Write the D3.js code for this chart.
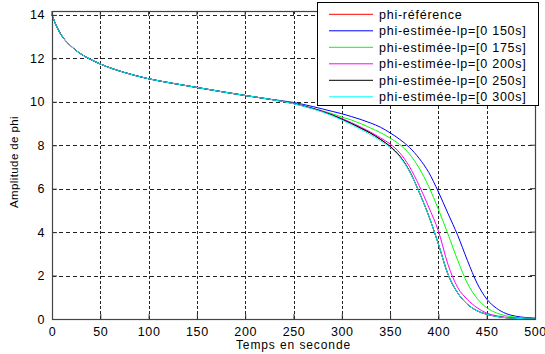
<!DOCTYPE html>
<html><head><meta charset="utf-8">
<script src="https://cdn.jsdelivr.net/npm/d3@7/dist/d3.min.js"></script>
<style>
body{margin:0;background:#fff;}
text{font-family:"Liberation Sans",Arial,sans-serif;fill:#000;}
</style></head>
<body><svg id="c" width="545" height="354"></svg>
<script>
const times = [0,5,10,20,30,40,50,75,100,125,150,175,200,225,
  250,260,270,280,290,300,310,320,330,340,350,360,370,380,390,400,410,420,430,440,450,460,470,480,490,500];
const common = [14,13.45,13.05,12.55,12.2,11.95,11.74,11.35,11.06,10.85,10.66,10.47,10.29,10.12];
const phiRef = common.concat([9.92,9.81,9.69,9.55,9.39,9.2,9.0,8.78,8.55,8.27,7.95,7.5,6.82,5.85,4.75,3.45,2.05,1.2,0.68,0.38,0.22,0.12,0.06,0.03,0.01,0]);
const phi150 = common.concat([9.97,9.88,9.78,9.67,9.56,9.45,9.32,9.18,9.02,8.83,8.57,8.27,7.9,7.4,6.75,5.85,4.85,3.85,2.7,1.65,0.92,0.5,0.25,0.13,0.07,0.04]);
const phi175 = common.concat([9.94,9.83,9.7,9.58,9.45,9.3,9.16,8.99,8.79,8.58,8.33,8.03,7.6,6.95,6.1,5.05,3.9,2.7,1.65,0.95,0.52,0.28,0.15,0.08,0.04,0.02]);
const phi200 = common.concat([9.93,9.82,9.7,9.57,9.41,9.23,9.04,8.83,8.6,8.34,8.06,7.65,7.02,6.15,5.15,4.05,2.5,1.45,0.9,0.52,0.27,0.15,0.08,0.04,0.02,0.01]);
const phi250 = common.concat([9.92,9.81,9.69,9.55,9.39,9.2,9.0,8.78,8.55,8.27,7.95,7.5,6.82,5.85,4.75,3.45,2.05,1.2,0.68,0.38,0.22,0.12,0.06,0.03,0.01,0]);
const phi300 = common.concat([9.91,9.8,9.67,9.53,9.36,9.16,8.95,8.72,8.48,8.2,7.9,7.46,6.8,5.85,4.75,3.45,2.05,1.2,0.68,0.38,0.22,0.12,0.06,0.03,0.01,0]);
const seriesNames = ["phi-référence","phi-estimée-lp=[0 150s]","phi-estimée-lp=[0 175s]","phi-estimée-lp=[0 200s]","phi-estimée-lp=[0 250s]","phi-estimée-lp=[0 300s]"];
const seriesValues = [phiRef, phi150, phi175, phi200, phi250, phi300];
const seriesColors = ["#ff0000","#0000ff","#00ff00","#ff00ff","#000000","#00ffff"];
const xTicks = [0,50,100,150,200,250,300,350,400,450,500];
const yTicks = [0,2,4,6,8,10,12,14];

const svg = d3.select("#c");
const L=52, R=535, T=11, B=319;
const x = d3.scaleLinear().domain([0,500]).range([L,R]);
const y = d3.scaleLinear().domain([0,14.18]).range([B,T]);

// grid
svg.append("g").selectAll("line").data(xTicks.slice(1,-1)).join("line")
  .attr("x1",d=>Math.round(x(d))+0.5).attr("x2",d=>Math.round(x(d))+0.5).attr("y1",T).attr("y2",B)
  .attr("stroke","#222").attr("stroke-dasharray","3,2");
svg.append("g").selectAll("line").data(yTicks.slice(1)).join("line")
  .attr("y1",d=>Math.round(y(d))+0.5).attr("y2",d=>Math.round(y(d))+0.5).attr("x1",L).attr("x2",R)
  .attr("stroke","#222").attr("stroke-dasharray","4,3");

// axes
const xAx = svg.append("g").attr("transform",`translate(0,${B})`)
  .call(d3.axisBottom(x).tickValues(xTicks).tickSize(-5).tickPadding(8).tickFormat(d3.format("d")));
const yAx = svg.append("g").attr("transform",`translate(${L},0)`)
  .call(d3.axisLeft(y).tickValues(yTicks).tickSize(-5).tickPadding(7).tickFormat(d3.format("d")));
[xAx,yAx].forEach(g=>{
  g.select(".domain").remove();
  g.selectAll("line").attr("stroke","#333");
  g.selectAll("text").attr("font-size","12.5px").style("letter-spacing","0.6px")
   .attr("font-family","Liberation Sans, Arial, sans-serif");
});
// top/right ticks
svg.append("g").selectAll("line").data(xTicks).join("line")
  .attr("x1",d=>x(d)).attr("x2",d=>x(d)).attr("y1",T).attr("y2",T+5).attr("stroke","#333");
svg.append("g").selectAll("line").data(yTicks).join("line")
  .attr("y1",d=>y(d)).attr("y2",d=>y(d)).attr("x1",R).attr("x2",R-5).attr("stroke","#333");

// curves
const line = d3.line().x((d,i)=>x(times[i])).y(d=>y(d)).curve(d3.curveMonotoneX);
seriesValues.forEach((vals,k)=>{
  svg.append("path").datum(vals).attr("d",line).attr("fill","none")
    .attr("stroke",seriesColors[k]).attr("stroke-width",1);
});

// box
svg.append("rect").attr("x",L+0.5).attr("y",T+0.5).attr("width",R-L).attr("height",B-T)
  .attr("fill","none").attr("stroke","#444").attr("stroke-width",1.2);

// labels
svg.append("text").attr("x",(L+R)/2).attr("y",349).attr("text-anchor","middle")
  .attr("font-size","12px").style("letter-spacing","0.9px").text("Temps en seconde");
svg.append("text").attr("transform","translate(18,162) rotate(-90)").attr("text-anchor","middle")
  .attr("font-size","11.5px").style("letter-spacing","0.4px").text("Amplitude de phi");

// legend
const lg = svg.append("g");
lg.append("rect").attr("x",317.5).attr("y",2.5).attr("width",221).attr("height",103)
  .attr("fill","#fff").attr("stroke","#000");
seriesNames.forEach((n,k)=>{
  const yy = 14.3 + k*16.5;
  lg.append("line").attr("x1",329).attr("x2",373).attr("y1",yy).attr("y2",yy)
    .attr("stroke",seriesColors[k]).attr("stroke-width",1);
  lg.append("text").attr("x",379).attr("y",yy+4.5).attr("font-size","12.5px")
    .style("letter-spacing","0.75px").text(n);
});
</script></body></html>
